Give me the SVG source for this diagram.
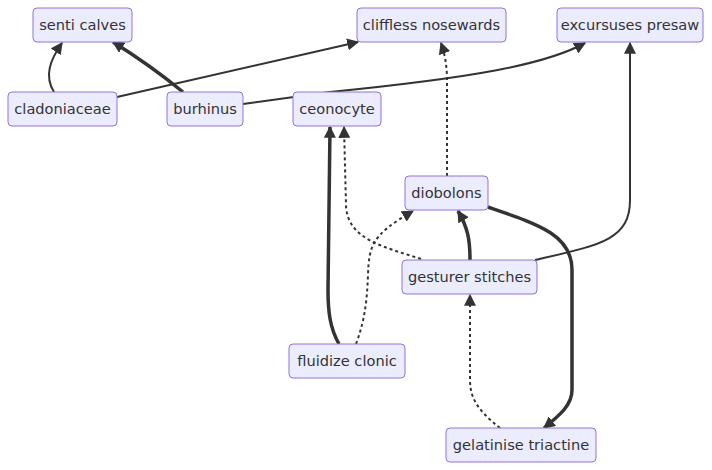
<svg xmlns="http://www.w3.org/2000/svg" width="712" height="470" viewBox="0 0 712 470">
<style>
.node rect{fill:#ECECFF;stroke:#9370DB;stroke-width:1}
.node text{font-family:"DejaVu Sans",sans-serif;font-size:14.6px;fill:#333;text-anchor:middle}
.e{fill:none;stroke:#333;stroke-width:2;marker-end:url(#arr)}
.thick{stroke-width:3.5}
.dot{stroke-dasharray:3 3}
</style>
<defs>
<marker id="arr" viewBox="0 0 10 10" refX="9" refY="5" markerWidth="12" markerHeight="12" markerUnits="userSpaceOnUse" orient="auto">
<path d="M0,0 L10,5 L0,10 z" fill="#333"/>
</marker>
</defs>
<rect width="712" height="470" fill="#fff"/>
<g id="edges">
<path class="e" d="M54,92 C44,76 50,60 62,43"/>
<path class="e thick" d="M183,92 Q150,65 113,42"/>
<path class="e" d="M117,97 L358,42"/>
<path class="e" d="M243,104 L330,92 C470,78 545,65 585,43"/>
<path class="e" d="M535,260 C600,245 630,240 630,200 L630,43"/>
<path class="e dot" d="M447,176 L447,80 Q447,60 441,43"/>
<path class="e dot" d="M421,259 C385,247 347,240 346,205 L344,127"/>
<path class="e thick" d="M339,344 C330,328 328,312 328,290 L330,127"/>
<path class="e dot" d="M356,344 C365,320 367,300 368,275 C369,245 372,235 413,211"/>
<path class="e thick" d="M470,260 C470,240 468,228 458,211"/>
<path class="e thick" d="M488,207 C540,225 572,235 572,270 L572,390 C572,405 560,415 544,428"/>
<path class="e dot" d="M500,428 C480,412 470,400 470,380 L470,295"/>
</g>
<g id="senti-calves" class="node"><rect x="33" y="8" width="99" height="34" rx="4"/><text x="82.5" y="30">senti calves</text></g>
<g id="cliffless-nosewards" class="node"><rect x="357" y="8" width="149" height="34" rx="4"/><text x="431.5" y="30">cliffless nosewards</text></g>
<g id="excursuses-presaw" class="node"><rect x="557" y="8" width="146" height="34" rx="4"/><text x="630" y="30">excursuses presaw</text></g>
<g id="cladoniaceae" class="node"><rect x="8" y="92" width="109" height="34" rx="4"/><text x="62.5" y="114">cladoniaceae</text></g>
<g id="burhinus" class="node"><rect x="167" y="92" width="76" height="34" rx="4"/><text x="205" y="114">burhinus</text></g>
<g id="ceonocyte" class="node"><rect x="293" y="92" width="88" height="34" rx="4"/><text x="337" y="114">ceonocyte</text></g>
<g id="diobolons" class="node"><rect x="405" y="176" width="83" height="34" rx="4"/><text x="446.5" y="198">diobolons</text></g>
<g id="gesturer-stitches" class="node"><rect x="402" y="260" width="135" height="34" rx="4"/><text x="469.5" y="282">gesturer stitches</text></g>
<g id="fluidize-clonic" class="node"><rect x="289" y="344" width="116" height="34" rx="4"/><text x="347" y="366">fluidize clonic</text></g>
<g id="gelatinise-triactine" class="node"><rect x="446" y="428" width="150" height="34" rx="4"/><text x="521" y="450">gelatinise triactine</text></g>
</svg>
